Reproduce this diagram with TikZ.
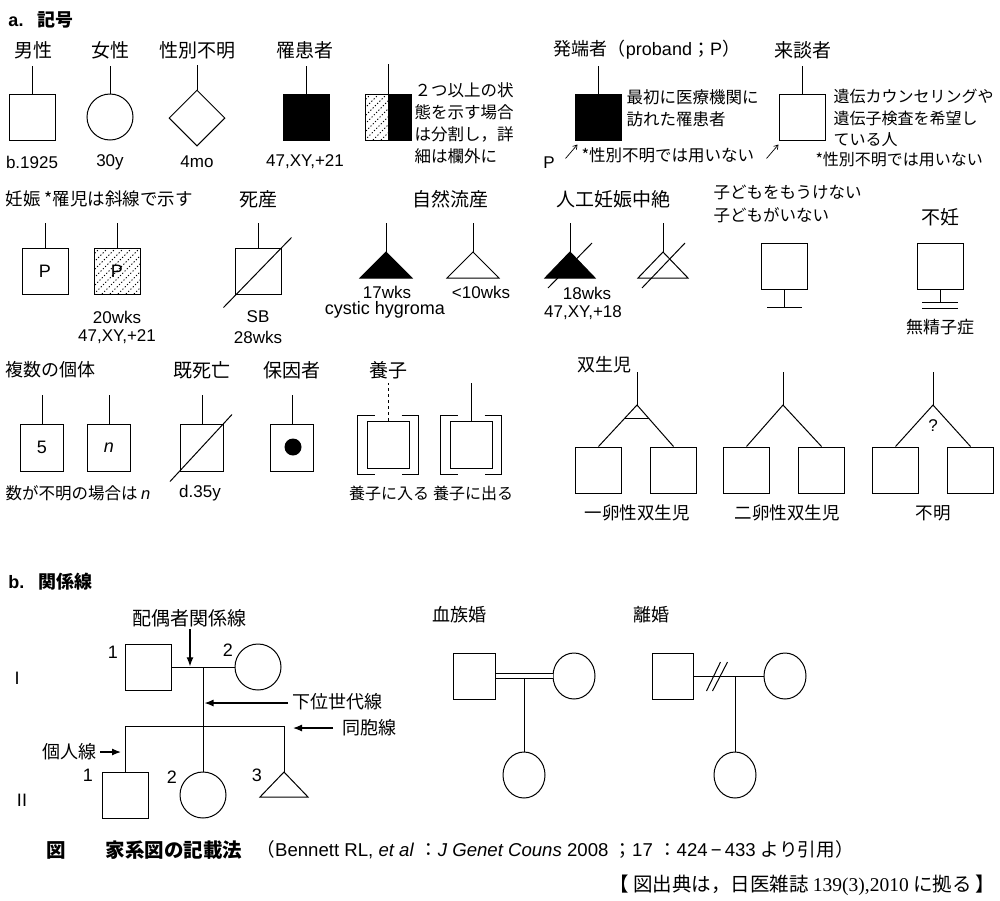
\documentclass[tikz,border=0pt]{standalone}
\usepackage{fontspec}
\setmainfont{Liberation Sans}
\newfontfamily\jp{Noto Sans CJK JP}
\newfontfamily\tnum{Liberation Serif}
\usetikzlibrary{positioning,arrows.meta,calc,shapes.geometric}

\begin{document}
\begin{tikzpicture}[x=1pt, y=-1pt, line width=1pt,
  sq/.style={draw, minimum width=46, minimum height=46, inner sep=0, font=\fontsize{18}{20}\selectfont},
  nsq/.style={sq, minimum width=43, minimum height=47},
  circ/.style={draw, circle, minimum size=46, inner sep=0},
  oval/.style={draw, ellipse, minimum width=42, minimum height=46, inner sep=0},
  head/.style={font=\jp\fontsize{19}{22}\selectfont, inner sep=0},
  mixed/.style={font=\fontsize{18}{22}\selectfont, inner sep=0},
  val/.style={font=\fontsize{17}{20}\selectfont, inner sep=0},
  note/.style={font=\jp\fontsize{16.5}{22}\selectfont, align=left, anchor=west, inner sep=0},
  hatch/.style={dash pattern=on 1.2pt off 2pt, line width=0.8pt},
  ptr/.style={-{Latex[length=9pt,width=7pt]}, line width=1.2pt},
  tick/.style={-{Straight Barb[length=4pt,width=5pt]}, line width=0.7pt}
]
\useasboundingbox (0,0) rectangle (1000,900);

\node[mixed, anchor=west, font=\bfseries\fontsize{18}{22}\selectfont] (sec-a) at (8,20) {a.\hspace{14pt}{\jp 記号}};

\node[head] (h-male) at (33,50) {男性};
\node[sq] (male) at (32,117) {};
\draw (male.north) -- ++(0,-28);
\node[val] (v-male) at (32,162) {b.1925};

\node[head] (h-female) at (110,50) {女性};
\node[circ] (female) at (110,117) {};
\draw (female.north) -- ++(0,-28);
\node[val] (v-female) at (110,162) {30y};

\node[head] (h-unk) at (197,50) {性別不明};
\node[draw, diamond, minimum width=56, minimum height=56, inner sep=0] (unk) at (197,118) {};
\draw (unk.north) -- ++(0,-25);
\node[val] (v-unk) at (197,162) {4mo};

\node[head] (h-aff) at (305,50) {罹患者};
\node[sq, fill] (aff) at (306,117) {};
\draw (aff.north) -- ++(0,-28);
\node[val] (v-aff) at (305,162) {47,XY,+21};

\begin{scope}
  \clip (365,94) rectangle (388,140);
  \foreach \d in {-48,-40,...,24} \draw[hatch] (365+\d,140) -- ++(48,-48);
\end{scope}
\fill (388,94) rectangle (411,140);
\node[sq] (split) at (388,117) {};
\draw (split.north) -- ++(0,-30);
\node[note] (n-split) at (414,123.5) {２つ以上の状\\態を示す場合\\は分割し，詳\\細は欄外に};

\node[mixed] (h-pro) at (647,50) {{\jp 発端者（}proband{\jp ；}P{\jp ）}};
\node[sq, fill] (pro) at (598,117) {};
\draw (pro.north) -- ++(0,-28);
\node[note] (n-pro) at (626,108) {最初に医療機関に\\訪れた罹患者};
\node[val] (p-pro) at (549,163) {P};
\draw[tick] (pro.south west) ++(-9,18) -- ++(12,-14);
\node[note] (x-pro) at (581,155) {*性別不明では用いない};

\node[head] (h-con) at (803,50) {来談者};
\node[sq] (con) at (802,117) {};
\draw (con.north) -- ++(0,-28);
\node[note, font=\jp\fontsize{16}{21.5}\selectfont] (n-con) at (833,118) {遺伝カウンセリングや\\遺伝子検査を希望し\\ている人};
\draw[tick] (con.south west) ++(-12,18) -- ++(12,-14);
\node[note, font=\jp\fontsize{16}{20}\selectfont] (x-con) at (815,159) {*性別不明では用いない};

\node[note, font=\jp\fontsize{17.5}{22}\selectfont] (h-preg) at (5,199) {妊娠 *罹児は斜線で示す};
\node[sq] (preg) at (45,271) {P};
\draw (preg.north) -- ++(0,-25);
\begin{scope}
  \clip (94,248) rectangle (140,294);
  \foreach \d in {-48,-40,...,48} \draw[hatch] (94+\d,294) -- ++(48,-48);
\end{scope}
\node[sq] (pregaff) at (117,271) {P};
\draw (pregaff.north) -- ++(0,-25);
\node[val] (v-preg1) at (117,317) {20wks};
\node[val] (v-preg2) at (117,337) {47,XY,+21};

\node[head] (h-sb) at (258,199) {死産};
\node[sq] (sb) at (258,271) {};
\draw (sb.north) -- ++(0,-25);
\draw (sb.south west) ++(-11,13) -- ++(68,-70);
\node[val] (v-sb1) at (258,317) {SB};
\node[val] (v-sb2) at (258,337) {28wks};

\node[head] (h-sab) at (450,199) {自然流産};
\coordinate (sab) at (386,252);
\draw (sab) -- ++(0,-29);
\filldraw (sab) -- ++(-26,26) -- ++(52,0) -- cycle;
\coordinate (sab2) at (473,252);
\draw (sab2) -- ++(0,-29);
\draw (sab2) -- ++(-26,26) -- ++(52,0) -- cycle;
\node[val] (v-sab1) at (387,292) {17wks};
\node[val, font=\fontsize{18}{20}\selectfont] (v-sab2) at (385,310) {cystic hygroma};
\node[val] (v-sab3) at (481,292) {<10wks};

\node[head] (h-top) at (613,199) {人工妊娠中絶};
\coordinate (top) at (570,252);
\draw (top) -- ++(0,-29);
\filldraw (top) -- ++(-25,26) -- ++(50,0) -- cycle;
\draw (top) ++(-22,36) -- ++(44,-45);
\coordinate (top2) at (663,252);
\draw (top2) -- ++(0,-29);
\draw (top2) -- ++(-25,26) -- ++(50,0) -- cycle;
\draw (top2) ++(-21,36) -- ++(43,-45);
\node[val] (v-top1) at (587,293) {18wks};
\node[val] (v-top2) at (583,313) {47,XY,+18};

\node[note, font=\jp\fontsize{16.5}{22.5}\selectfont] (h-nc) at (713,204) {子どもをもうけない\\子どもがいない};
\node[sq] (nochild) at (784,266) {};
\draw (nochild.south) -- ++(0,18) coordinate (nc-bar);
\draw (nc-bar) ++(-17,0) -- ++(35,0);

\node[head] (h-inf) at (940,217) {不妊};
\node[sq] (infert) at (940,266) {};
\draw (infert.south) -- ++(0,13);
\draw (infert.south) ++(-18,13) -- ++(36,0);
\draw (infert.south) ++(-18,19) -- ++(36,0);
\node[head, font=\jp\fontsize{17}{20}\selectfont] (v-inf) at (940,327) {無精子症};

\node[note, font=\jp\fontsize{18}{22}\selectfont] (h-mult) at (5,370) {複数の個体};
\node[nsq] (mult5) at (42,447.5) {5};
\draw (mult5.north) -- ++(0,-29);
\node[nsq] (multn) at (109,447.5) {\textit{n}};
\draw (multn.north) -- ++(0,-29);
\node[note] (v-mult) at (5,493) {数が不明の場合は {\fontspec{Liberation Sans}\itshape n}};

\node[head] (h-dec) at (202,370) {既死亡};
\node[nsq] (dec) at (202,447.5) {};
\draw (dec.north) -- ++(0,-29);
\draw (dec.south west) ++(-10,10) -- ++(62,-67);
\node[val] (v-dec) at (200,493) {d.35y};

\node[head] (h-car) at (292,370) {保因者};
\node[nsq] (car) at (292,447.5) {};
\draw (car.north) -- ++(0,-29);
\node[circle, fill, minimum size=17, inner sep=0] (car-dot) at (293,447) {};

\node[head] (h-adopt) at (388,370) {養子};
\node[nsq, minimum width=42] (adin) at (388,444.5) {};
\draw[dashed] (adin.north) -- ++(0,-38);
\draw (adin.west) ++(8,-29.5) -- ++(-17,0) -- ++(0,59) -- ++(17,0);
\draw (adin.east) ++(-8,-29.5) -- ++(17,0) -- ++(0,59) -- ++(-17,0);
\node[nsq, minimum width=42] (adout) at (471,444.5) {};
\draw (adout.north) -- ++(0,-38);
\draw (adout.west) ++(8,-29.5) -- ++(-17,0) -- ++(0,59) -- ++(17,0);
\draw (adout.east) ++(-8,-29.5) -- ++(17,0) -- ++(0,59) -- ++(-17,0);
\node[head, font=\jp\fontsize{16}{20}\selectfont] (v-adin) at (389,493) {養子に入る};
\node[head, font=\jp\fontsize{16}{20}\selectfont] (v-adout) at (473,493) {養子に出る};

\node[note, font=\jp\fontsize{18}{22}\selectfont] (h-twin) at (577,365) {双生児};
\coordinate (mz) at (637,405);
\node[sq] (mz1) at (598.5,470) {};
\node[sq] (mz2) at (673.5,470) {};
\draw (mz) -- ++(0,-33);
\draw (mz1.north) -- (mz) -- (mz2.north);
\draw ($(mz)!0.33!(mz1.north)$) -- ($(mz)!0.33!(mz2.north)$);
\node[head, font=\jp\fontsize{17.5}{20}\selectfont] (v-mz) at (637,513) {一卵性双生児};

\coordinate (dz) at (783,405);
\node[sq] (dz1) at (746.5,470) {};
\node[sq] (dz2) at (821.5,470) {};
\draw (dz) -- ++(0,-33);
\draw (dz1.north) -- (dz) -- (dz2.north);
\node[head, font=\jp\fontsize{17.5}{20}\selectfont] (v-dz) at (787,513) {二卵性双生児};

\coordinate (uz) at (933,405);
\node[sq] (uz1) at (895.5,470) {};
\node[sq] (uz2) at (970.5,470) {};
\draw (uz) -- ++(0,-33);
\draw (uz1.north) -- (uz) -- (uz2.north);
\node[val] (q-uz) at (933,426) {?};
\node[head, font=\jp\fontsize{17.5}{20}\selectfont] (v-uz) at (933,513) {不明};

\node[mixed, anchor=west, font=\bfseries\fontsize{18}{22}\selectfont] (sec-b) at (8,582) {b.\hspace{14pt}{\jp 関係線}};

\node[head] (lbl-mate) at (189,618) {配偶者関係線};
\node[sq] (i1) at (148,667) {};
\node[circ] (i2) at (258,667) {};
\draw (i1) -- (i2);
\draw[ptr] (lbl-mate.south) ++(1,2) -- ++(0,37);
\coordinate (i-mate) at (203,667);
\coordinate (sib) at (203,726);
\node[sq] (ii1) at (125,795) {};
\node[circ] (ii2) at (203,795) {};
\coordinate (ii3) at (284,772);
\draw (ii1.north) -- (ii1.north |- sib) -- (ii3 |- sib) -- (ii3);
\draw (i-mate) -- (ii2.north);
\draw (ii3) -- ++(-24,25) -- ++(48,0) -- cycle;
\node[val, font=\fontsize{18}{20}\selectfont] (n-i1) at (113,652) {1};
\node[val, font=\fontsize{18}{20}\selectfont] (n-i2) at (228,650) {2};
\node[val, font=\fontsize{18}{20}\selectfont] (n-ii1) at (88,775) {1};
\node[val, font=\fontsize{18}{20}\selectfont] (n-ii2) at (172,777) {2};
\node[val, font=\fontsize{18}{20}\selectfont] (n-ii3) at (257,775) {3};
\node[val, font=\fontsize{18}{20}\selectfont] (gen-i) at (17,678) {I};
\node[val, font=\fontsize{18}{20}\selectfont] (gen-ii) at (22,800) {II};

\node[note, font=\jp\fontsize{18}{22}\selectfont] (lbl-desc) at (292,702) {下位世代線};
\draw[ptr] (lbl-desc.west) ++(-4,1) -- ($(i-mate |- lbl-desc.west)+(1.5,1)$);
\node[note, font=\jp\fontsize{18}{22}\selectfont] (lbl-sib) at (342,728) {同胞線};
\draw[ptr] (lbl-sib.west) ++(-9,0) -- ++(-40,0);
\node[note, font=\jp\fontsize{18}{22}\selectfont, anchor=east] (lbl-ind) at (97,752) {個人線};
\draw[ptr] (lbl-ind.east) ++(3,0) -- ++(21,0);

\node[note, font=\jp\fontsize{18}{22}\selectfont] (h-cons) at (432,615) {血族婚};
\node[sq, minimum width=42] (cm) at (474,676) {};
\node[oval] (cf) at (574,676) {};
\draw[double, double distance=3.5pt] (cm) -- (cf);
\node[oval] (cc) at (524,775) {};
\draw (cc.north) -- ++(0,-74);

\node[note, font=\jp\fontsize{18}{22}\selectfont] (h-div) at (633,615) {離婚};
\node[sq, minimum width=41] (dm) at (672.5,676) {};
\node[oval] (df) at (785,676) {};
\draw (dm) -- (df);
\draw (dm.east) ++(13,15) -- ++(14,-29);
\draw (dm.east) ++(19,15) -- ++(15,-29);
\node[oval] (dc) at (735,775) {};
\draw (dc) -- (dc |- df);

\node[head, font=\jp\bfseries\fontsize{19.5}{22}\selectfont, anchor=west] (fig) at (46,850) {図};
\node[head, font=\jp\bfseries\fontsize{19.5}{22}\selectfont, anchor=west] (fig-title) at (105,850) {家系図の記載法};
\node[val, font=\fontsize{18.6}{22}\selectfont, anchor=west] (fig-src) at (256,850) {{\jp（}Bennett RL, \textit{et al} {\jp ：}\textit{J Genet Couns} 2008 {\jp ；}17 {\jp ：}424\,−\,433 {\jp より引用）}};
\node[head, font=\jp\fontsize{19.5}{22}\selectfont, anchor=east] (fig-note) at (996,885) {【 図出典は，日医雑誌 {\tnum 139(3),2010} に拠る 】};
\end{tikzpicture}
\end{document}
